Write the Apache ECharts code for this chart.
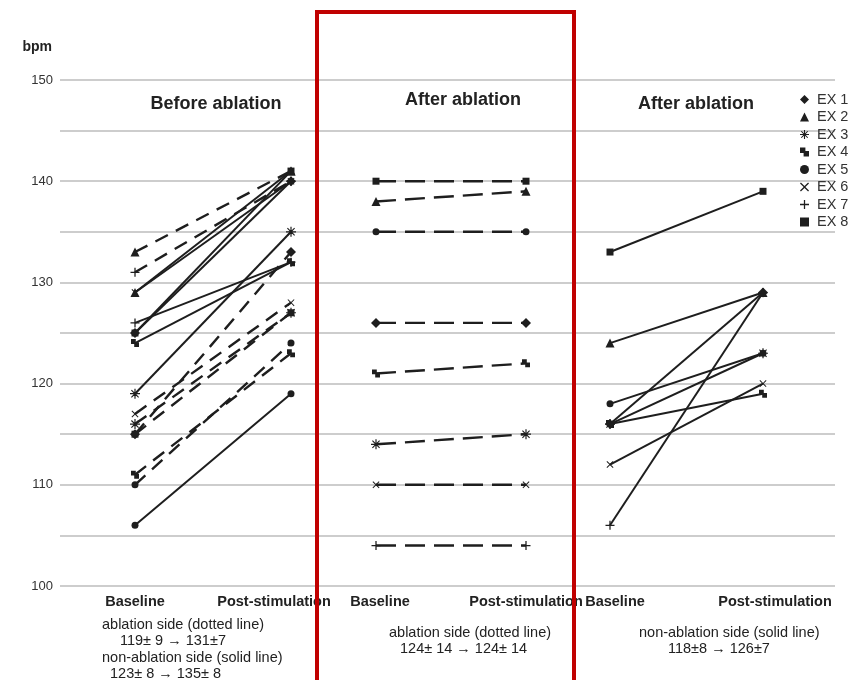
<!DOCTYPE html>
<html>
<head>
<meta charset="utf-8">
<script src="https://cdn.jsdelivr.net/npm/echarts@6/dist/echarts.min.js"></script>
<style>
  html, body { margin: 0; padding: 0; background: #fff; }
  #chart { width: 861px; height: 680px; }
</style>
</head>
<body>
<div id="chart"></div>
<script>
// Heart rate (bpm) at baseline and after stimulation, per subject EX 1..8
const exNames = ['EX 1', 'EX 2', 'EX 3', 'EX 4', 'EX 5', 'EX 6', 'EX 7', 'EX 8'];
const stageLabels = ['Baseline', 'Post-stimulation'];
const yTicks = [100, 110, 120, 130, 140, 150];

// Before ablation - ablation side (dashed)
const beforeAblBase = [115, 133, 116, 111, 110, 117, 131, 115];
const beforeAblPost = [133, 141, 127, 123, 124, 128, 140, 127];
// Before ablation - non-ablation side (solid)
const beforeNonBase = [125, 129, 119, 124, 106, 129, 126, 125];
const beforeNonPost = [140, 141, 135, 132, 119, 140, 132, 141];
// After ablation - ablation side (dashed)
const afterAblBase = [126, 138, 114, 121, 135, 110, 104, 140];
const afterAblPost = [126, 139, 115, 122, 135, 110, 104, 140];
// After ablation - non-ablation side (solid)
const afterNonBase = [116, 124, 116, 116, 118, 112, 106, 133];
const afterNonPost = [129, 129, 123, 119, 123, 120, 129, 139];

// Marker shapes for each subject
const PLUS = 'path://M4.3,0H5.7V4.3H10V5.7H5.7V10H4.3V5.7H0V4.3H4.3Z';
const CROSS = 'path://M0,1L1,0L5,4L9,0L10,1L6,5L10,9L9,10L5,6L1,10L0,9L4,5Z';
const STAR = 'path://M4.4,0H5.6V4.4H10V5.6H5.6V10H4.4V5.6H0V4.4H4.4Z' +
             'M1,1.8L1.8,1L5,4.2L8.2,1L9,1.8L5.8,5L9,8.2L8.2,9L5,5.8L1.8,9L1,8.2L4.2,5Z';
const DOUBLE_SQ = 'path://M0,0H6V6H0ZM4,4H10V10H4Z';
const exSymbols = ['diamond', 'triangle', STAR, DOUBLE_SQ, 'circle', CROSS, PLUS, 'rect'];
const exSymbolSize = [10, 9, 10, 8, 7, 7, 9, 7];

const INK = '#1e1e1e';
const FONT = 'Liberation Sans, Arial, sans-serif';

function pairSeries(base, post, axis, dashed, dash) {
  return exNames.map((name, i) => ({
    name: name,
    type: 'line',
    xAxisIndex: axis,
    yAxisIndex: axis,
    data: [base[i], post[i]],
    symbol: exSymbols[i],
    symbolSize: exSymbolSize[i],
    showAllSymbol: true,
    silent: true,
    animation: false,
    itemStyle: { color: INK, borderWidth: 0 },
    lineStyle: { color: INK, width: dashed ? 2.4 : 2, type: dashed ? dash : 'solid' }
  }));
}

const gridBox = { top: 80, bottom: 94 };

function labelAxis(gridIndex, baseShift, postShift) {
  const pad = s => s >= 0 ? [0, 0, 0, 2 * s] : [0, -2 * s, 0, 0];
  const txt = { fontFamily: FONT, fontWeight: 'bold', fontSize: 14.5, color: '#222' };
  return {
    type: 'category',
    gridIndex: gridIndex,
    data: stageLabels,
    boundaryGap: false,
    axisLine: { show: false },
    axisTick: { show: false },
    splitLine: { show: false },
    axisLabel: {
      margin: 8,
      interval: 0,
      formatter: (v, idx) => idx === 0 ? '{b|' + v + '}' : '{p|' + v + '}',
      rich: {
        b: Object.assign({ padding: pad(baseShift) }, txt),
        p: Object.assign({ padding: pad(postShift) }, txt)
      }
    }
  };
}

function hiddenY(gridIndex) {
  return { type: 'value', gridIndex: gridIndex, min: 100, max: 150, show: false };
}

const titleStyle = { fontFamily: FONT, fontWeight: 'bold', fontSize: 18, color: '#222' };
const noteFont = '14.5px ' + FONT;

const chart = echarts.init(document.getElementById('chart'), null, { renderer: 'canvas' });

chart.setOption({
  backgroundColor: '#fff',
  animation: false,
  title: [
    { text: 'Before ablation', left: 211, top: 90, textAlign: 'center', textStyle: titleStyle },
    { text: 'After ablation', left: 458, top: 86, textAlign: 'center', textStyle: titleStyle },
    { text: 'After ablation', left: 691, top: 90, textAlign: 'center', textStyle: titleStyle }
  ],
  legend: {
    orient: 'vertical',
    left: 800,
    top: 92,
    padding: 0,
    itemWidth: 9,
    itemHeight: 9,
    itemGap: 2.5,
    selectedMode: false,
    textStyle: { fontFamily: FONT, fontSize: 14.5, lineHeight: 14.5, color: '#333', padding: [0, 0, 0, 3] },
    data: exNames.map((n, i) => ({ name: n, icon: exSymbols[i], itemStyle: { color: INK } }))
  },
  grid: [
    { left: 60, right: 26, top: gridBox.top, bottom: gridBox.bottom },
    { left: 135, right: 861 - 291, top: gridBox.top, bottom: gridBox.bottom },
    { left: 376, right: 861 - 526, top: gridBox.top, bottom: gridBox.bottom },
    { left: 610, right: 861 - 763, top: gridBox.top, bottom: gridBox.bottom }
  ],
  xAxis: [
    { type: 'value', gridIndex: 0, min: 0, max: 1, show: false },
    labelAxis(1, 0, -17),
    labelAxis(2, 4, 0),
    labelAxis(3, 5, 12)
  ],
  yAxis: [
    {
      type: 'value',
      gridIndex: 0,
      min: 100,
      max: 150,
      interval: 5,
      name: 'bpm',
      nameLocation: 'end',
      nameGap: 26,
      nameTextStyle: { fontFamily: FONT, fontWeight: 'bold', fontSize: 14, color: '#222', align: 'right', padding: [0, 8, 0, 0] },
      axisLine: { show: false },
      axisTick: { show: false },
      axisLabel: {
        fontFamily: FONT, fontSize: 13, color: '#333', margin: 7,
        formatter: v => yTicks.indexOf(v) >= 0 ? String(v) : ''
      },
      splitLine: { lineStyle: { color: '#bdbdbd', width: 1.5 } }
    },
    hiddenY(1), hiddenY(2), hiddenY(3)
  ],
  series: [
    ...pairSeries(beforeNonBase, beforeNonPost, 1, false),
    ...pairSeries(beforeAblBase, beforeAblPost, 1, true, [14, 9]),
    ...pairSeries(afterAblBase, afterAblPost, 2, true, [20, 9]),
    ...pairSeries(afterNonBase, afterNonPost, 3, false)
  ],
  graphic: [
    { type: 'text', left: 102, top: 617, style: { text: 'ablation side (dotted line)', font: noteFont, fill: '#222' } },
    { type: 'text', left: 120, top: 633, style: { text: '119\u00b1 9 \u2192 131\u00b17', font: noteFont, fill: '#222' } },
    { type: 'text', left: 102, top: 650, style: { text: 'non-ablation side (solid line)', font: noteFont, fill: '#222' } },
    { type: 'text', left: 110, top: 666, style: { text: '123\u00b1 8 \u2192 135\u00b1 8', font: noteFont, fill: '#222' } },
    { type: 'text', left: 389, top: 625, style: { text: 'ablation side (dotted line)', font: noteFont, fill: '#222' } },
    { type: 'text', left: 400, top: 641, style: { text: '124\u00b1 14 \u2192 124\u00b1 14', font: noteFont, fill: '#222' } },
    { type: 'text', left: 639, top: 625, style: { text: 'non-ablation side (solid line)', font: noteFont, fill: '#222' } },
    { type: 'text', left: 668, top: 641, style: { text: '118\u00b18 \u2192 126\u00b17', font: noteFont, fill: '#222' } },
    {
      type: 'rect', z: 100,
      shape: { x: 317, y: 12, width: 257, height: 700 },
      style: { fill: 'none', stroke: '#c00000', lineWidth: 4 }
    }
  ]
});
</script>
</body>
</html>
